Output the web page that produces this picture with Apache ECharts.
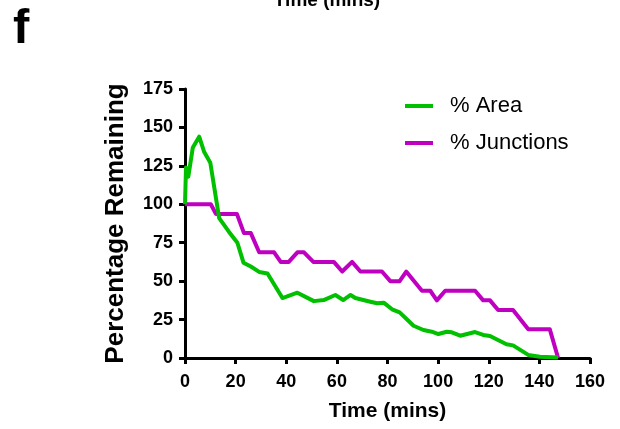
<!DOCTYPE html>
<html>
<head>
<meta charset="utf-8">
<script src="https://cdn.jsdelivr.net/npm/echarts@6/dist/echarts.min.js"></script>
<style>
  html, body { margin: 0; padding: 0; background: #fff; }
  #chart { width: 620px; height: 429px; }
</style>
</head>
<body>
<div id="chart"></div>
<script>
// Time points (mins) and % of initial area remaining
const areaTimes = [0, 0.4, 1.3, 3.1, 5.6, 7.6, 10, 13.5, 17.4, 20.7, 23.1, 26, 29.3, 32.6, 38.5, 44.4, 50.9, 54.8, 59.4, 62.5, 65.4, 67.3, 73.2, 75.9, 78.5, 81.8, 84.8, 90.3, 94.2, 97.5, 100.1, 103.4, 105.4, 108.7, 114.6, 117.8, 120.5, 127, 129.6, 135.6, 140.2, 147.4];
const areaValues = [100, 124, 118, 137, 144, 134, 127, 91, 82, 75, 62, 59.5, 56, 55, 39, 42.5, 37, 37.7, 41, 37.7, 41, 39, 36.6, 35.6, 36, 31.7, 29.7, 21, 18.2, 17.1, 15.6, 17.1, 16.7, 14.5, 16.9, 15, 14.3, 8.9, 8.2, 2, 0.8, 0.4];

// Time points (mins) and % of initial junctions remaining
const junctionTimes = [0, 10.2, 12.2, 20.5, 23.3, 26, 29.3, 35.2, 37.8, 41, 44.4, 47, 50.7, 58.8, 62.1, 66, 69.3, 77.8, 81.1, 84.8, 87.4, 93.6, 96.9, 99.5, 102.8, 114.6, 117.8, 120.5, 123.7, 129.6, 135.6, 144.1, 147.4];
const junctionValues = [100, 100, 93.75, 93.75, 81.25, 81.25, 68.75, 68.75, 62.5, 62.5, 68.75, 68.75, 62.5, 62.5, 56.25, 62.5, 56.25, 56.25, 50, 50, 56.25, 43.75, 43.75, 37.5, 43.75, 43.75, 37.5, 37.5, 31.25, 31.25, 18.75, 18.75, 0];

const seriesNames = ['% Area', '% Junctions'];
const xTicks = { min: 0, max: 160, step: 20 };
const yTicks = { min: 0, max: 175, step: 25 };

const pair = (xs, ys) => xs.map((x, i) => [x, ys[i]]);

const FONT = '"Liberation Sans", Arial, sans-serif';
const chart = echarts.init(document.getElementById('chart'), null, { renderer: 'canvas' });

const axisCommon = {
  axisLine: { show: true, onZero: false, lineStyle: { color: '#000', width: 3 } },
  axisTick: { show: true, inside: false, length: 6, lineStyle: { color: '#000', width: 3 } },
  axisLabel: { color: '#000', fontFamily: FONT, fontWeight: 'bold', fontSize: 18 },
  splitLine: { show: false },
  nameTextStyle: { color: '#000', fontFamily: FONT, fontWeight: 'bold' }
};

chart.setOption({
  animation: false,
  backgroundColor: '#fff',
  grid: { left: 185, right: 30, top: 89, bottom: 71, containLabel: false },
  graphic: [
    { type: 'text', left: 13, top: 5,
      style: { text: 'f', fill: '#000', font: 'bold 49px ' + FONT } },
    { type: 'text', x: 327, y: 10,
      style: { text: 'Time (mins)', fill: '#000', font: 'bold 19px ' + FONT,
               textAlign: 'center', textVerticalAlign: 'bottom' } }
  ],
  legend: {
    orient: 'vertical',
    left: 400, top: 90,
    itemWidth: 28, itemHeight: 4, itemGap: 15,
    icon: 'rect',
    textStyle: { color: '#000', fontFamily: FONT, fontSize: 22, padding: [0, 0, 0, 12] },
    data: seriesNames
  },
  xAxis: Object.assign({}, axisCommon, {
    type: 'value', min: xTicks.min, max: xTicks.max, interval: xTicks.step,
    name: 'Time (mins)', nameLocation: 'middle', nameGap: 43,
    nameTextStyle: Object.assign({}, axisCommon.nameTextStyle, { fontSize: 21 }),
    axisLabel: Object.assign({}, axisCommon.axisLabel, { margin: 15 })
  }),
  yAxis: Object.assign({}, axisCommon, {
    type: 'value', min: yTicks.min, max: yTicks.max, interval: yTicks.step,
    name: 'Percentage Remaining', nameLocation: 'middle', nameGap: 56,
    nameTextStyle: Object.assign({}, axisCommon.nameTextStyle, { fontSize: 26 }),
    axisLabel: Object.assign({}, axisCommon.axisLabel, { margin: 12 })
  }),
  series: [
    { name: seriesNames[0], type: 'line', data: pair(areaTimes, areaValues),
      symbol: 'none', z: 3,
      lineStyle: { color: '#00c000', width: 4, join: 'round' }, itemStyle: { color: '#00c000' } },
    { name: seriesNames[1], type: 'line', data: pair(junctionTimes, junctionValues),
      symbol: 'none', z: 2,
      lineStyle: { color: '#c000c0', width: 4, join: 'round' }, itemStyle: { color: '#c000c0' } }
  ]
});
</script>
</body>
</html>
